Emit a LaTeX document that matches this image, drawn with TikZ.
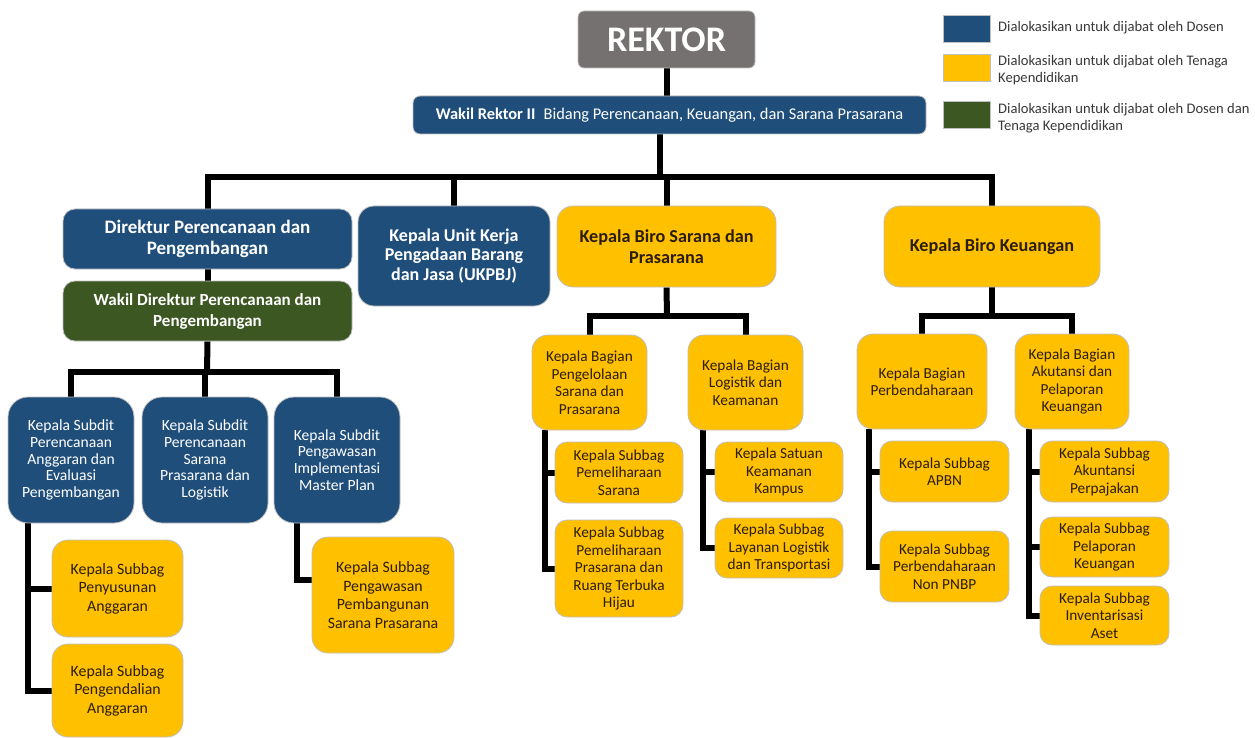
\documentclass[tikz,border=0pt]{standalone}
\usepackage{fontspec}
\setmainfont{Carlito}
\usetikzlibrary{backgrounds}
\definecolor{bluebx}{HTML}{1F4E7A}
\definecolor{yelbx}{HTML}{FFC000}
\definecolor{grnbx}{HTML}{3C5721}
\definecolor{graybx}{HTML}{767171}
\definecolor{darktxt}{HTML}{2B1D0E}
\definecolor{edgebx}{HTML}{BFBFBF}
\tikzset{
  boxbase/.style={rounded corners=12pt, draw=edgebx, line width=0.8pt, align=center, inner sep=2pt},
  bluebox/.style={boxbase, fill=bluebx, text=white},
  yelbox/.style={boxbase, fill=yelbx, text=darktxt},
  grnbox/.style={boxbase, fill=grnbx, text=white},
  smalltxt/.style={font=\fontsize{15.3}{17.5}\selectfont},
  bigtxt/.style={font=\fontsize{18.2}{21}\selectfont\bfseries},
  conn/.style={line width=6pt, draw=black, line join=miter},
  swatch/.style={draw=edgebx, line width=0.8pt, minimum width=47pt, minimum height=27pt, inner sep=0pt},
  legtxt/.style={anchor=west, align=left, inner sep=0pt, font=\fontsize{14.6}{17.5}\selectfont, text=black!78}
}
\begin{document}
\begin{tikzpicture}[x=1pt,y=-1pt]
\useasboundingbox (0,0) rectangle (1255,738);
% top
\node[boxbase, fill=graybx, text=white, rounded corners=6pt, minimum width=177pt, minimum height=57pt, font=\fontsize{36}{40}\selectfont\bfseries] (rektor) at (666.5,39.5) {REKTOR};
\node[bluebox, rounded corners=7pt, minimum width=513pt, minimum height=38pt, font=\fontsize{16.4}{18}\selectfont] (wakil) at (669.5,115) {\textbf{Wakil Rektor II}\enspace Bidang Perencanaan, Keuangan, dan Sarana Prasarana};
% level 2
\node[bluebox, minimum width=289pt, minimum height=60pt, font=\fontsize{19}{21}\selectfont\bfseries] (dir) at (207.5,239) {Direktur Perencanaan dan\\Pengembangan};
\node[grnbox, minimum width=289pt, minimum height=60pt, font=\fontsize{17}{21}\selectfont\bfseries] (wdir) at (207.5,311) {Wakil Direktur Perencanaan dan\\Pengembangan};
\node[bluebox, rounded corners=16pt, minimum width=192pt, minimum height=100pt, font=\fontsize{18}{19.5}\selectfont\bfseries] (ukp) at (454,256) {Kepala Unit Kerja\\Pengadaan Barang\\dan Jasa (UKPBJ)};
\node[yelbox, rounded corners=16pt, minimum width=219pt, minimum height=81pt, bigtxt] (biro1) at (666.5,246.5) {Kepala Biro Sarana dan\\Prasarana};
\node[yelbox, rounded corners=16pt, minimum width=216pt, minimum height=81pt, bigtxt] (biro2) at (992,246.5) {Kepala Biro Keuangan};
% subdit
\node[bluebox, rounded corners=20pt, minimum width=126pt, minimum height=126pt, font=\fontsize{15.6}{16.8}\selectfont] (sd1) at (71,460) {Kepala Subdit\\Perencanaan\\Anggaran dan\\Evaluasi\\Pengembangan};
\node[bluebox, rounded corners=20pt, minimum width=126pt, minimum height=126pt, font=\fontsize{15.6}{16.8}\selectfont] (sd2) at (205,460) {Kepala Subdit\\Perencanaan\\Sarana\\Prasarana dan\\Logistik};
\node[bluebox, rounded corners=20pt, minimum width=126pt, minimum height=126pt, font=\fontsize{15.6}{16.8}\selectfont] (sd3) at (337,460) {Kepala Subdit\\Pengawasan\\Implementasi\\Master Plan};
\node[yelbox, rounded corners=16pt, minimum width=131pt, minimum height=97pt, font=\fontsize{15.8}{18.5}\selectfont] (sb1) at (117.5,588.5) {Kepala Subbag\\Penyusunan\\Anggaran};
\node[yelbox, rounded corners=16pt, minimum width=131pt, minimum height=93pt, font=\fontsize{15.8}{18.5}\selectfont] (sb2) at (117.5,690.5) {Kepala Subbag\\Pengendalian\\Anggaran};
\node[yelbox, rounded corners=16pt, minimum width=142pt, minimum height=116pt, font=\fontsize{15.8}{18.5}\selectfont] (sb3) at (383,595) {Kepala Subbag\\Pengawasan\\Pembangunan\\Sarana Prasarana};
% sarana
\node[yelbox, rounded corners=16pt, minimum width=115pt, minimum height=95pt, smalltxt] (bg1) at (589.5,382.5) {Kepala Bagian\\Pengelolaan\\Sarana dan\\Prasarana};
\node[yelbox, rounded corners=16pt, minimum width=115pt, minimum height=95pt, smalltxt] (bg2) at (745.5,382.5) {Kepala Bagian\\Logistik dan\\Keamanan};
\node[yelbox, minimum width=128pt, minimum height=61pt, smalltxt] (ss1) at (619,472.5) {Kepala Subbag\\Pemeliharaan\\Sarana};
\node[yelbox, minimum width=128pt, minimum height=97pt, smalltxt] (ss2) at (619,568.5) {Kepala Subbag\\Pemeliharaan\\Prasarana dan\\Ruang Terbuka\\Hijau};
\node[yelbox, minimum width=128pt, minimum height=60pt, smalltxt] (ss3) at (779,472) {Kepala Satuan\\Keamanan\\Kampus};
\node[yelbox, minimum width=128pt, minimum height=60pt, smalltxt] (ss4) at (779,548) {Kepala Subbag\\Layanan Logistik\\dan Transportasi};
% keuangan
\node[yelbox, rounded corners=16pt, minimum width=130pt, minimum height=95pt, smalltxt] (bk1) at (922,381.5) {Kepala Bagian\\Perbendaharaan};
\node[yelbox, rounded corners=16pt, minimum width=114pt, minimum height=95pt, smalltxt] (bk2) at (1072,381.5) {Kepala Bagian\\Akutansi dan\\Pelaporan\\Keuangan};
\node[yelbox, minimum width=129pt, minimum height=61pt, smalltxt] (sk1) at (944.5,471.5) {Kepala Subbag\\APBN};
\node[yelbox, minimum width=129pt, minimum height=71pt, smalltxt] (sk2) at (944.5,566.5) {Kepala Subbag\\Perbendaharaan\\Non PNBP};
\node[yelbox, minimum width=129pt, minimum height=61pt, smalltxt] (sk3) at (1104.5,471.5) {Kepala Subbag\\Akuntansi\\Perpajakan};
\node[yelbox, minimum width=129pt, minimum height=60pt, smalltxt] (sk4) at (1104.5,547) {Kepala Subbag\\Pelaporan\\Keuangan};
\node[yelbox, minimum width=129pt, minimum height=59pt, smalltxt] (sk5) at (1104.5,615.5) {Kepala Subbag\\Inventarisasi\\Aset};
% legend
\node[swatch, fill=bluebx] (lg1) at (966.5,28.5) {};
\node[swatch, fill=yelbx] (lg2) at (966.5,67.5) {};
\node[swatch, fill=grnbx] (lg3) at (966.5,115) {};
\node[legtxt] (lt1) at (998,28) {Dialokasikan untuk dijabat oleh Dosen};
\node[legtxt] (lt2) at (998,70) {Dialokasikan untuk dijabat oleh Tenaga\\Kependidikan};
\node[legtxt] (lt3) at (998,118) {Dialokasikan untuk dijabat oleh Dosen dan\\Tenaga Kependidikan};
% connectors
\begin{pgfonlayer}{background}
\coordinate (busA) at (660,177);
\coordinate (busB) at (207,372);
\coordinate (busC) at (667,316);
\coordinate (busD) at (992,316);
\draw[conn] (rektor.south) -- (wakil.north -| rektor.south);
\draw[conn] ([xshift=-9.5pt]wakil.south) -- (busA);
\draw[conn] (dir.north) |- (busA) -| (biro2.north);
\draw[conn] (ukp.north) -- (ukp.north |- busA);
\draw[conn] (biro1.north) -- (biro1.north |- busA);
\draw[conn] (dir.south) -- (wdir.north);
\draw[conn] (wdir.south) -- (busB);
\draw[conn] (sd1.north) |- (busB) -| (sd3.north);
\draw[conn] (sd2.north) -- (sd2.north |- busB);
\draw[conn] ([xshift=-43pt]sd1.south) |- (sb1.west);
\draw[conn] ([xshift=-43pt]sd1.south) |- (sb2.west);
\draw[conn] ([xshift=-40pt]sd3.south) |- ([yshift=15pt]sb3.west);
\draw[conn] (biro1.south) -- (busC);
\draw[conn] (bg1.north) |- (busC) -| (bg2.north);
\draw[conn] ([xshift=-44.5pt]bg1.south) |- (ss1.west);
\draw[conn] ([xshift=-44.5pt]bg1.south) |- (ss2.west);
\draw[conn] ([xshift=-42.5pt]bg2.south) |- (ss3.west);
\draw[conn] ([xshift=-42.5pt]bg2.south) |- (ss4.west);
\draw[conn] (biro2.south) -- (busD);
\draw[conn] (bk1.north) |- (busD) -| (bk2.north);
\draw[conn] ([xshift=-53pt]bk1.south) |- (sk1.west);
\draw[conn] ([xshift=-53pt]bk1.south) |- (sk2.west);
\draw[conn] ([xshift=-43pt]bk2.south) |- (sk3.west);
\draw[conn] ([xshift=-43pt]bk2.south) |- (sk4.west);
\draw[conn] ([xshift=-43pt]bk2.south) |- (sk5.west);
\end{pgfonlayer}
\end{tikzpicture}
\end{document}
